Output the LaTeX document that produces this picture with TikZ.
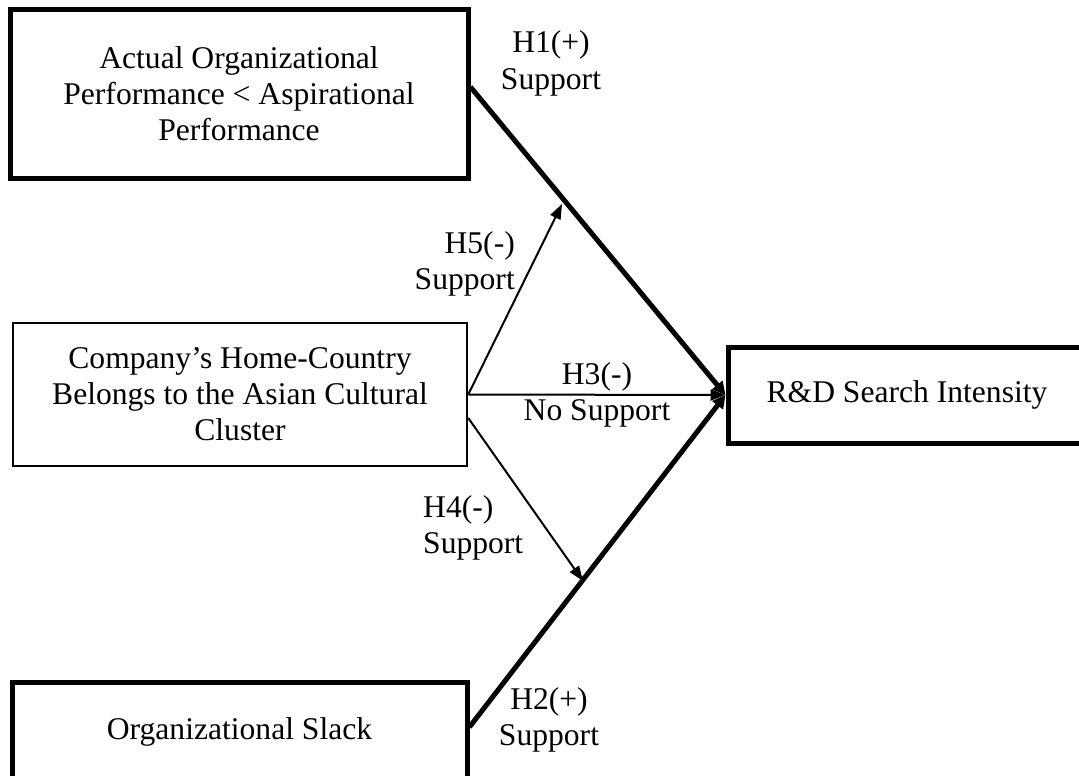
\documentclass[tikz,border=0pt]{standalone}
\usepackage{fontspec}
\setmainfont{Liberation Serif}
\usetikzlibrary{arrows.meta}
\begin{document}
\begin{tikzpicture}[x=1pt,y=-1pt,
  every node/.style={font=\fontsize{31.6}{36}\selectfont, align=center, inner sep=0pt},
  heavybox/.style={draw, line width=5pt},
  lightbox/.style={draw, line width=2.5pt},
  heavypath/.style={line width=5pt, -{Triangle[length=13pt,width=13pt]}},
  lightpath/.style={line width=2pt, -{Triangle[length=15pt,width=11pt]}},
  hyp/.style={font=\fontsize{31.6}{36.5}\selectfont}]
\useasboundingbox (0,0) rectangle (1079,776);
\clip (0,0) rectangle (1079,776);

% constructs
\node[heavybox, minimum width=458pt, minimum height=168pt] (perf) at (239,94)
  {Actual Organizational\\Performance < Aspirational\\Performance};
\node[lightbox, minimum width=454pt, minimum height=143pt] (asia) at (240,394.5)
  {Company’s Home-Country\\Belongs to the Asian Cultural\\Cluster};
\node[heavybox, minimum width=455pt, minimum height=100pt] (slack) at (239.5,732)
  {Organizational Slack};
\node[heavybox, minimum width=362pt, minimum height=96pt] (rd) at (909,395) {};
\node (rdtext) at (907,395) {R\&D Search Intensity};

% moderation targets on the main paths
\coordinate (m5) at (562,204);
\coordinate (m4) at (583,581);

% main effects
\draw[heavypath] ([yshift=7pt]perf.east) -- (rd.west);
\draw[heavypath] ([yshift=5pt]slack.east) -- (rd.west);
\draw[lightpath] (asia.east) -- (rd.west);

% moderating effects
\draw[lightpath] (asia.east) -- (m5);
\draw[lightpath] ([yshift=-23.5pt]asia.east) -- (m4);

% hypothesis labels
\node[hyp] (l1) at (551,63.5) {H1(+)\\Support};
\node[hyp, align=right, anchor=east] (l5) at (515,264) {H5(-)\\Support};
\node[hyp] (l3) at (597,395) {H3(-)\\No Support};
\node[hyp, align=left, anchor=west] (l4) at (423,528) {H4(-)\\Support};
\node[hyp] (l2) at (549,720) {H2(+)\\Support};
\end{tikzpicture}
\end{document}
